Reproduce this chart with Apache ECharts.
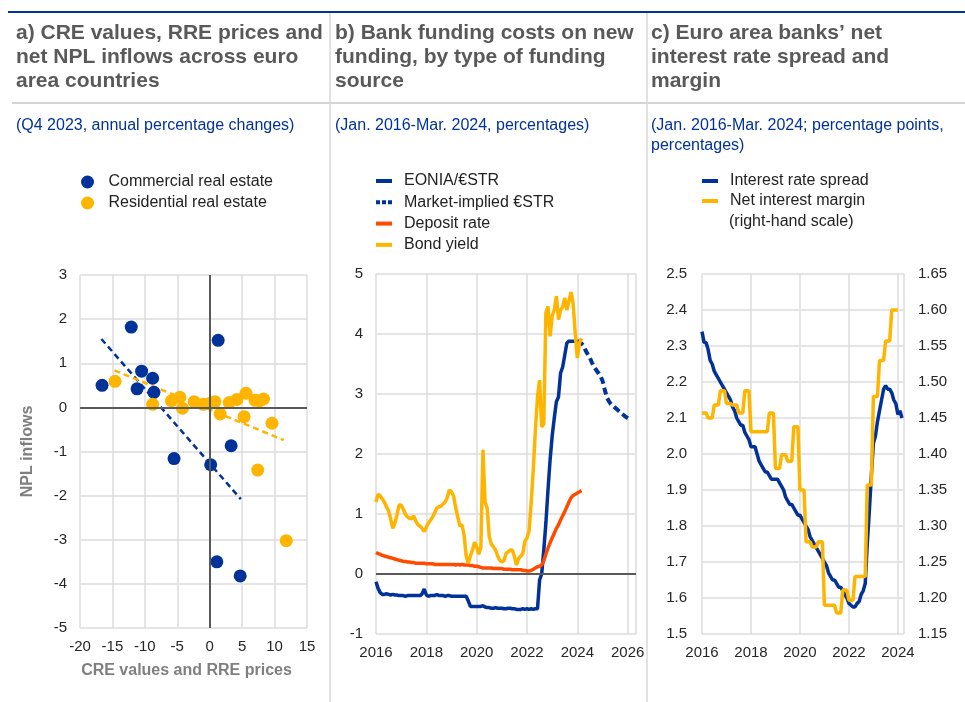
<!DOCTYPE html>
<html>
<head>
<meta charset="utf-8">
<script src="https://cdn.jsdelivr.net/npm/echarts@6/dist/echarts.min.js"></script>
<style>
html, body { margin: 0; padding: 0; background: #fff; }
#main { width: 965px; height: 702px; }
</style>
</head>
<body>
<div id="main"></div>
<script>
var myChart = echarts.init(document.getElementById('main'));

// a) CRE values / RRE prices (x) vs net NPL inflows (y)
var creValues = [[-16.6, 0.5], [-12.1, 1.82], [-10.5, 0.82], [-11.2, 0.42], [-8.8, 0.66], [-8.6, 0.34],
	[-5.5, -1.16], [0.15, -1.3], [1.3, 1.52], [3.3, -0.87], [1.1, -3.5], [4.7, -3.82]];
var rreValues = [[-14.6, 0.59], [-8.8, 0.07], [-5.9, 0.15], [-4.6, 0.23], [-4.2, -0.02], [-2.4, 0.13],
	[-1.0, 0.07], [0.0, 0.09], [0.8, 0.13], [1.6, -0.15], [3.0, 0.11], [4.2, 0.18], [5.6, 0.32],
	[5.3, -0.21], [7.0, 0.16], [7.7, 0.15], [8.3, 0.19], [9.6, -0.36], [7.4, -1.42], [11.8, -3.02]];
var creTrend = [[-16.7, 1.55], [4.8, -2.08]];
var rreTrend = [[-14.7, 0.84], [11.4, -0.74]];

// b) monthly, Jan. 2016 onwards
var startYear = 2016;
var eonia = [
	-0.13, -0.24, -0.31, -0.34, -0.34, -0.33, -0.34, -0.35, -0.34, -0.35, -0.35, -0.36,
	-0.36, -0.36, -0.37, -0.36, -0.36, -0.36, -0.36, -0.36, -0.36, -0.36, -0.33, -0.25,
	-0.35, -0.37, -0.36, -0.36, -0.36, -0.34, -0.36, -0.36, -0.36, -0.37, -0.36, -0.36,
	-0.37, -0.37, -0.37, -0.37, -0.37, -0.37, -0.37, -0.37, -0.45, -0.54, -0.54, -0.54,
	-0.54, -0.54, -0.54, -0.53, -0.55, -0.56, -0.56, -0.57, -0.57, -0.56, -0.57, -0.57,
	-0.57, -0.58, -0.58, -0.57, -0.57, -0.58, -0.58, -0.59, -0.59, -0.59, -0.58, -0.59,
	-0.58, -0.59, -0.58, -0.59, -0.58, -0.58, -0.10, 0.00, 0.40, 0.85, 1.40, 1.90,
	2.30, 2.60, 2.87, 2.95, 3.35, 3.45, 3.65, 3.85, 3.88, 3.88, 3.88, 3.88,
	3.88
];
var marketStart = 96;
var marketImplied = [3.88, 3.87, 3.84, 3.80, 3.72, 3.66, 3.60, 3.52, 3.45, 3.40, 3.35, 3.30, 3.22,
	3.08, 2.95, 2.88, 2.83, 2.80, 2.77, 2.74, 2.71, 2.68, 2.65, 2.62, 2.60, 2.58];
var depositRate = [
	0.36, 0.34, 0.33, 0.31, 0.30, 0.29, 0.28, 0.27, 0.26, 0.25, 0.24, 0.23,
	0.22, 0.21, 0.21, 0.20, 0.20, 0.19, 0.19, 0.18, 0.18, 0.18, 0.18, 0.18,
	0.17, 0.17, 0.17, 0.17, 0.16, 0.16, 0.16, 0.16, 0.16, 0.16, 0.16, 0.16,
	0.16, 0.16, 0.15, 0.16, 0.15, 0.16, 0.15, 0.15, 0.15, 0.14, 0.14, 0.13,
	0.13, 0.12, 0.11, 0.10, 0.10, 0.10, 0.10, 0.10, 0.09, 0.09, 0.09, 0.09,
	0.09, 0.08, 0.08, 0.08, 0.08, 0.07, 0.07, 0.07, 0.07, 0.07, 0.06, 0.06,
	0.05, 0.05, 0.06, 0.08, 0.10, 0.12, 0.13, 0.15, 0.22, 0.33, 0.43, 0.52,
	0.60, 0.68, 0.76, 0.82, 0.90, 0.97, 1.04, 1.12, 1.20, 1.27, 1.31, 1.33,
	1.35, 1.37, 1.39
];
var bondYield = [
	1.20, 1.33, 1.30, 1.25, 1.20, 1.12, 1.05, 0.92, 0.76, 0.85, 0.98, 1.15,
	1.15, 1.08, 1.00, 0.95, 0.93, 0.92, 0.97, 0.88, 0.82, 0.80, 0.76, 0.71,
	0.78, 0.85, 0.90, 0.95, 1.02, 1.10, 1.12, 1.13, 1.17, 1.20, 1.28, 1.40,
	1.37, 1.30, 1.10, 0.95, 0.80, 0.82, 0.65, 0.30, 0.18, 0.30, 0.40, 0.53,
	0.45, 0.33, 0.45, 2.07, 1.20, 1.10, 0.62, 0.50, 0.45, 0.40, 0.30, 0.23,
	0.20, 0.22, 0.34, 0.37, 0.40, 0.40, 0.29, 0.15, 0.26, 0.30, 0.34, 0.55,
	0.60, 0.72, 1.20, 1.75, 2.40, 2.95, 3.23, 2.45, 2.50, 4.35, 4.46, 3.96,
	4.30, 4.40, 4.63, 4.24, 4.40, 4.45, 4.60, 4.40, 4.55, 4.70, 4.50, 4.00,
	3.60, 3.85, 3.93
];

// c) monthly, Jan. 2016 onwards
var spread = [
	2.34, 2.31, 2.31, 2.29, 2.26, 2.25, 2.23, 2.22, 2.21, 2.20, 2.19, 2.18,
	2.17, 2.16, 2.15, 2.13, 2.12, 2.10, 2.09, 2.08, 2.08, 2.06, 2.05, 2.04,
	2.02, 2.02, 2.02, 2.00, 1.98, 1.97, 1.96, 1.95, 1.95, 1.94, 1.93, 1.93,
	1.93, 1.93, 1.92, 1.91, 1.90, 1.88, 1.87, 1.86, 1.86, 1.85, 1.84, 1.83,
	1.83, 1.82, 1.81, 1.80, 1.79, 1.77, 1.76, 1.75, 1.74, 1.73, 1.72, 1.71,
	1.70, 1.69, 1.67, 1.66, 1.65, 1.65, 1.64, 1.63, 1.63, 1.62, 1.61, 1.60,
	1.585, 1.58, 1.575, 1.575, 1.585, 1.59, 1.61, 1.62, 1.64, 1.75, 1.84, 1.94,
	2.03, 2.05, 2.09, 2.12, 2.15, 2.18, 2.19, 2.18, 2.18, 2.17, 2.15, 2.14,
	2.11, 2.12, 2.10
];
var nim = [
	1.457, 1.457, 1.457, 1.45, 1.45, 1.45, 1.468, 1.468, 1.468, 1.488, 1.488, 1.488,
	1.47, 1.47, 1.47, 1.468, 1.468, 1.468, 1.457, 1.457, 1.457, 1.488, 1.488, 1.488,
	1.431, 1.431, 1.431, 1.431, 1.431, 1.431, 1.431, 1.431, 1.431, 1.457, 1.457, 1.457,
	1.38, 1.38, 1.38, 1.399, 1.399, 1.399, 1.39, 1.39, 1.39, 1.438, 1.438, 1.438,
	1.35, 1.35, 1.35, 1.278, 1.278, 1.278, 1.271, 1.271, 1.271, 1.278, 1.278, 1.278,
	1.19, 1.19, 1.19, 1.19, 1.19, 1.19, 1.179, 1.179, 1.179, 1.211, 1.211, 1.211,
	1.197, 1.197, 1.197, 1.23, 1.23, 1.23, 1.23, 1.23, 1.23, 1.357, 1.357, 1.357,
	1.48, 1.48, 1.48, 1.53, 1.53, 1.53, 1.557, 1.557, 1.557, 1.6, 1.6, 1.6,
	1.6
];

function monthly(values, offset) {
	return values.map(function (v, i) {
		return [startYear + (i + (offset || 0)) / 12, v];
	});
}

var ecbBlue = '#003299';
var ecbYellow = '#ffb400';
var ecbOrange = '#ff4b00';
var gridLine = { show: true, lineStyle: { color: '#dcdcdc', width: 1.5 } };
var labelColor = '#262626';
var yearLabel = function (v) { return v % 1 === 0 ? String(v) : ''; };

var titleStyle = { fontSize: 21, fontWeight: 'bold', color: '#595959', lineHeight: 24 };
var subStyle = { fontSize: 16, fontWeight: 'normal', color: ecbBlue, lineHeight: 20 };
var legendText = { fontSize: 16, color: '#222', lineHeight: 16 };

var option = {
	animation: false,
	textStyle: { fontFamily: 'Liberation Sans, Arial, sans-serif' },
	title: [
		{ text: 'a) CRE values, RRE prices and\nnet NPL inflows across euro\narea countries', left: 16, top: 21, padding: 0, textStyle: titleStyle },
		{ text: 'b) Bank funding costs on new\nfunding, by type of funding\nsource', left: 335, top: 21, padding: 0, textStyle: titleStyle },
		{ text: 'c) Euro area banks\u2019 net\ninterest rate spread and\nmargin', left: 651, top: 21, padding: 0, textStyle: titleStyle },
		{ text: '(Q4 2023, annual percentage changes)', left: 16, top: 116, padding: 0, textStyle: subStyle },
		{ text: '(Jan. 2016-Mar. 2024, percentages)', left: 335, top: 116, padding: 0, textStyle: subStyle },
		{ text: '(Jan. 2016-Mar. 2024; percentage points,\npercentages)', left: 651, top: 116, padding: 0, textStyle: subStyle }
	],
	legend: [
		{
			data: ['Commercial real estate', 'Residential real estate'],
			left: 81, top: 174, padding: 0, orient: 'vertical',
			icon: 'circle', itemWidth: 32, itemHeight: 13, itemGap: 5,
			textStyle: legendText
		},
		{
			data: [
				{ name: 'EONIA/\u20acSTR' },
				{ name: 'Market-implied \u20acSTR', icon: 'path://M0,0h4v4h-4z M6,0h4v4h-4z M12,0h4v4h-4z' },
				{ name: 'Deposit rate' },
				{ name: 'Bond yield' }
			],
			left: 376, top: 173, padding: 0, orient: 'vertical',
			icon: 'rect', itemWidth: 16, itemHeight: 4, itemGap: 5.3,
			textStyle: Object.assign({ padding: [0, 0, 0, 7] }, legendText)
		},
		{
			data: ['Interest rate spread', 'Net interest margin'],
			left: 702, top: 173, padding: 0, orient: 'vertical',
			icon: 'rect', itemWidth: 16, itemHeight: 4, itemGap: 4,
			textStyle: Object.assign({ padding: [0, 0, 0, 7] }, legendText)
		}
	],
	graphic: [
		{ type: 'line', silent: true, shape: { x1: 8, y1: 12, x2: 965, y2: 12 }, style: { stroke: ecbBlue, lineWidth: 2 } },
		{ type: 'line', silent: true, shape: { x1: 12, y1: 103, x2: 965, y2: 103 }, style: { stroke: '#d4d4d4', lineWidth: 2 } },
		{ type: 'line', silent: true, shape: { x1: 330, y1: 13, x2: 330, y2: 702 }, style: { stroke: '#d9d9d9', lineWidth: 1.5 } },
		{ type: 'line', silent: true, shape: { x1: 647, y1: 13, x2: 647, y2: 702 }, style: { stroke: '#d9d9d9', lineWidth: 1.5 } },
		{ type: 'text', silent: true, left: 729, top: 214, style: { text: '(right-hand scale)', font: '16px Liberation Sans, Arial, sans-serif', fill: '#222' } }
	],
	grid: [
		{ left: 80, top: 275, width: 227, height: 353, outerBoundsMode: 'none' },
		{ left: 376, top: 274, width: 260, height: 360, outerBoundsMode: 'none' },
		{ left: 702, top: 274, width: 202, height: 360, outerBoundsMode: 'none' }
	],
	xAxis: [
		{
			gridIndex: 0, type: 'value', min: -20, max: 15, interval: 5,
			name: 'CRE values and RRE prices', nameLocation: 'middle', nameGap: 35,
			nameTextStyle: { fontSize: 16, fontWeight: 'bold', color: '#7f7f7f', padding: [0, 14, 0, 0] },
			axisLine: { show: false, onZero: false }, axisTick: { show: false },
			axisLabel: { fontSize: 15, color: labelColor, margin: 11 },
			splitLine: gridLine
		},
		{
			gridIndex: 1, type: 'value', min: 2016, max: 2026.33, interval: 2,
			axisLine: { show: false, onZero: false }, axisTick: { show: false },
			axisLabel: { fontSize: 15, color: labelColor, margin: 11, formatter: yearLabel },
			splitLine: gridLine
		},
		{
			gridIndex: 2, type: 'value', min: 2016, max: 2024.25, interval: 2,
			axisLine: { show: false, onZero: false }, axisTick: { show: false },
			axisLabel: { fontSize: 15, color: labelColor, margin: 11, formatter: yearLabel },
			splitLine: gridLine
		}
	],
	yAxis: [
		{
			gridIndex: 0, type: 'value', min: -5, max: 3, interval: 1,
			name: 'NPL inflows', nameLocation: 'middle', nameRotate: 90, nameGap: 44,
			nameTextStyle: { fontSize: 16, fontWeight: 'bold', color: '#7f7f7f' },
			axisLine: { show: false, onZero: false }, axisTick: { show: false },
			axisLabel: { fontSize: 15, color: labelColor, margin: 13 },
			splitLine: gridLine
		},
		{
			gridIndex: 1, type: 'value', min: -1, max: 5, interval: 1,
			axisLine: { show: false, onZero: false }, axisTick: { show: false },
			axisLabel: { fontSize: 15, color: labelColor, margin: 13 },
			splitLine: gridLine
		},
		{
			gridIndex: 2, type: 'value', min: 1.5, max: 2.5, interval: 0.1,
			axisLine: { show: false, onZero: false }, axisTick: { show: false },
			axisLabel: { fontSize: 15, color: labelColor, margin: 15, formatter: function (v) { return v.toFixed(1); } },
			splitLine: gridLine
		},
		{
			gridIndex: 2, type: 'value', position: 'right', min: 1.15, max: 1.65, interval: 0.05,
			axisLine: { show: false, onZero: false }, axisTick: { show: false },
			axisLabel: { fontSize: 15, color: labelColor, margin: 14, formatter: function (v) { return v.toFixed(2); } },
			splitLine: { show: false }
		}
	],
	series: [
		{
			name: 'CRE trend', type: 'line', xAxisIndex: 0, yAxisIndex: 0, z: 1,
			data: creTrend, symbol: 'none', silent: true,
			lineStyle: { color: ecbBlue, width: 2.5, type: [6, 4] },
			markLine: {
				silent: true, symbol: 'none', label: { show: false },
				lineStyle: { color: '#595959', width: 2, type: 'solid' },
				data: [{ xAxis: 0 }, { yAxis: 0 }]
			}
		},
		{
			name: 'RRE trend', type: 'line', xAxisIndex: 0, yAxisIndex: 0, z: 1,
			data: rreTrend, symbol: 'none', silent: true,
			lineStyle: { color: ecbYellow, width: 2.5, type: [6, 4] }
		},
		{
			name: 'Commercial real estate', type: 'scatter', xAxisIndex: 0, yAxisIndex: 0, z: 3,
			data: creValues, symbolSize: 13, itemStyle: { color: ecbBlue, opacity: 1 }
		},
		{
			name: 'Residential real estate', type: 'scatter', xAxisIndex: 0, yAxisIndex: 0, z: 3,
			data: rreValues, symbolSize: 13, itemStyle: { color: ecbYellow, opacity: 1 }
		},
		{
			name: 'EONIA/\u20acSTR', type: 'line', xAxisIndex: 1, yAxisIndex: 1, z: 2,
			data: monthly(eonia), symbol: 'none',
			itemStyle: { color: ecbBlue }, lineStyle: { color: ecbBlue, width: 3.5 },
			markLine: {
				silent: true, symbol: 'none', label: { show: false },
				lineStyle: { color: '#595959', width: 2, type: 'solid' },
				data: [{ yAxis: 0 }]
			}
		},
		{
			name: 'Market-implied \u20acSTR', type: 'line', xAxisIndex: 1, yAxisIndex: 1, z: 3,
			data: monthly(marketImplied, marketStart), symbol: 'none',
			itemStyle: { color: ecbBlue }, lineStyle: { color: ecbBlue, width: 4, type: [7, 4], cap: 'butt' }
		},
		{
			name: 'Deposit rate', type: 'line', xAxisIndex: 1, yAxisIndex: 1, z: 3,
			data: monthly(depositRate), symbol: 'none',
			itemStyle: { color: ecbOrange }, lineStyle: { color: ecbOrange, width: 3.5 }
		},
		{
			name: 'Bond yield', type: 'line', xAxisIndex: 1, yAxisIndex: 1, z: 4,
			data: monthly(bondYield), symbol: 'none',
			itemStyle: { color: ecbYellow }, lineStyle: { color: ecbYellow, width: 3.5 }
		},
		{
			name: 'Interest rate spread', type: 'line', xAxisIndex: 2, yAxisIndex: 2, z: 2,
			data: monthly(spread), symbol: 'none',
			itemStyle: { color: ecbBlue }, lineStyle: { color: ecbBlue, width: 3.5 }
		},
		{
			name: 'Net interest margin', type: 'line', xAxisIndex: 2, yAxisIndex: 3, z: 3,
			data: monthly(nim), symbol: 'none',
			itemStyle: { color: ecbYellow }, lineStyle: { color: ecbYellow, width: 3.5 }
		}
	]
};
myChart.setOption(option);
</script>
</body>
</html>
